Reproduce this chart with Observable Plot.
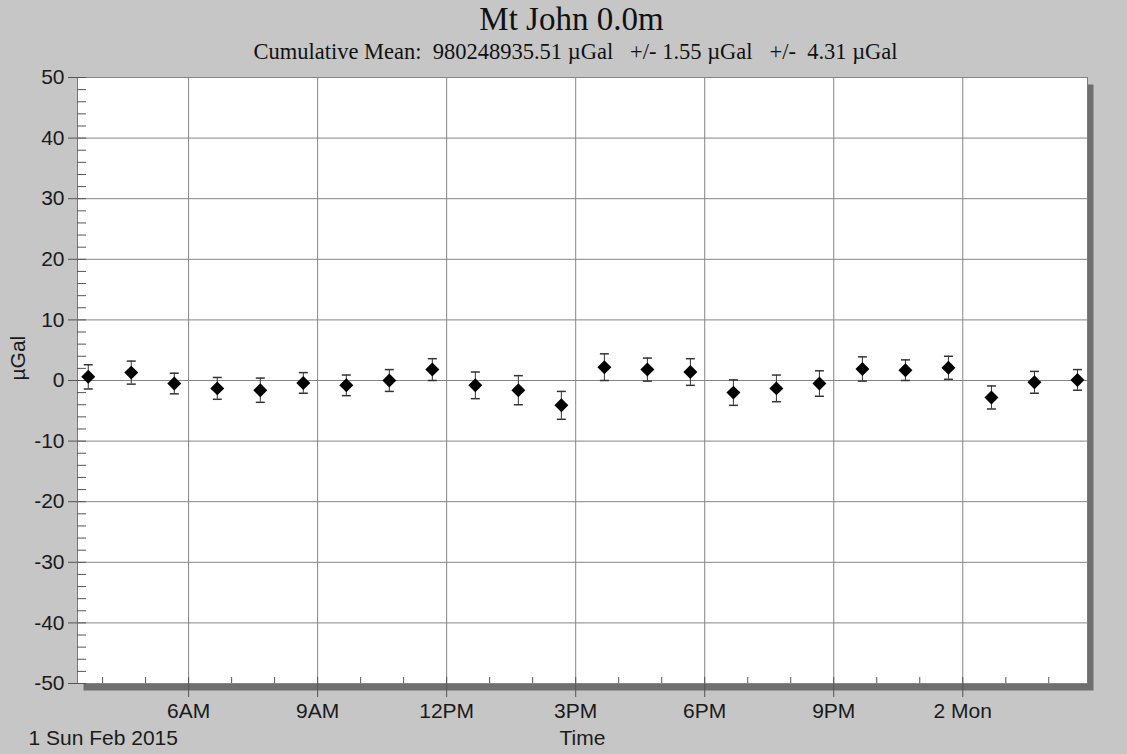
<!DOCTYPE html>
<html>
<head>
<meta charset="utf-8">
<script src="https://cdn.jsdelivr.net/npm/d3@7"></script>
<script src="https://cdn.jsdelivr.net/npm/@observablehq/plot@0.6"></script>
<style>
  html, body { margin: 0; padding: 0; background: #c6c6c6; }
  #wrap { position: relative; width: 1127px; height: 754px; overflow: hidden; background: #c6c6c6; }
  #title { position: absolute; left: 8px; width: 1127px; top: 1px; text-align: center;
           font-family: "Liberation Serif", "Times New Roman", serif; font-size: 33px; line-height: 37px; color: #111; }
  #subtitle { position: absolute; left: 12px; width: 1127px; top: 39px; text-align: center; white-space: pre;
           font-family: "Liberation Serif", "Times New Roman", serif; font-size: 22.5px; line-height: 25px; color: #111; }
  #chart { position: absolute; left: 0; top: 62px; }
</style>
</head>
<body>
<div id="wrap">
  <div id="title"></div>
  <div id="subtitle"></div>
  <div id="chart"></div>
</div>
<script>
// ---- data ----
const titleText = "Mt John 0.0m";
const subtitleText = "Cumulative Mean:  980248935.51 \u00b5Gal   +/- 1.55 \u00b5Gal   +/-  4.31 \u00b5Gal";
const yLabel = "\u00b5Gal";
const xLabel = "Time";
const dateLabel = "1 Sun Feb 2015";

const times = [
  "2015-02-01T03:40", "2015-02-01T04:40", "2015-02-01T05:40", "2015-02-01T06:40",
  "2015-02-01T07:40", "2015-02-01T08:40", "2015-02-01T09:40", "2015-02-01T10:40",
  "2015-02-01T11:40", "2015-02-01T12:40", "2015-02-01T13:40", "2015-02-01T14:40",
  "2015-02-01T15:40", "2015-02-01T16:40", "2015-02-01T17:40", "2015-02-01T18:40",
  "2015-02-01T19:40", "2015-02-01T20:40", "2015-02-01T21:40", "2015-02-01T22:40",
  "2015-02-01T23:40", "2015-02-02T00:40", "2015-02-02T01:40", "2015-02-02T02:40"
];
const values = [0.6, 1.3, -0.5, -1.3, -1.6, -0.4, -0.8, 0.0, 1.8, -0.8, -1.6, -4.1,
                2.2, 1.8, 1.4, -2.0, -1.3, -0.5, 1.9, 1.7, 2.1, -2.8, -0.3, 0.1];
const errors = [2.0, 1.9, 1.7, 1.8, 2.0, 1.7, 1.7, 1.8, 1.8, 2.2, 2.4, 2.3,
                2.2, 1.9, 2.2, 2.1, 2.2, 2.1, 2.0, 1.7, 1.9, 1.9, 1.8, 1.7];

const xDomain = ["2015-02-01T03:25", "2015-02-02T02:54"];
const xTicks = ["2015-02-01T06:00", "2015-02-01T09:00", "2015-02-01T12:00", "2015-02-01T15:00",
                "2015-02-01T18:00", "2015-02-01T21:00", "2015-02-02T00:00"];
const xTickLabels = ["6AM", "9AM", "12PM", "3PM", "6PM", "9PM", "2 Mon"];
const yTicks = [-50, -40, -30, -20, -10, 0, 10, 20, 30, 40, 50];
const yDomain = [-50, 50];

// ---- build ----
document.getElementById("title").textContent = titleText;
document.getElementById("subtitle").textContent = subtitleText;

const parse = s => new Date(s + ":00Z");
const data = times.map((t, i) => ({t: parse(t), v: values[i], e: errors[i]}));
const xTickDates = xTicks.map(parse);
const xDom = xDomain.map(parse);
const hourTicks = d3.utcHour.range(xDom[0], xDom[1]);
const yMinor = d3.range(yDomain[0], yDomain[1] + 0.001, 2);

const capSymbol = {
  draw(ctx, size) { ctx.moveTo(-4.5, 0); ctx.lineTo(4.5, 0); }
};

const axisColor = "#555";
const gridColor = "#858585";

const chart = Plot.plot({
  width: 1127,
  height: 692,
  marginLeft: 77,
  marginRight: 40,
  marginTop: 15,
  marginBottom: 71,
  style: {background: "transparent", fontFamily: "'Liberation Sans', Arial, sans-serif", fontSize: "21px", color: "#1a1a1a", overflow: "visible"},
  x: {type: "utc", domain: xDom},
  y: {domain: yDomain},
  marks: [
    Plot.frame({fill: "#6f6f6f", dx: 6, dy: 7}),
    Plot.frame({fill: "white", stroke: "#7a7a7a"}),
    Plot.gridX(xTickDates, {stroke: gridColor, strokeOpacity: 1}),
    Plot.gridY(yTicks, {stroke: gridColor, strokeOpacity: 1}),
    Plot.axisY(yTicks, {tickSize: 9, tickPadding: 4, stroke: axisColor, label: null, tickFormat: d => String(d)}),
    Plot.axisY(yMinor, {tickSize: -9, tickPadding: 0, stroke: axisColor, label: null, tickFormat: () => ""}),
    Plot.axisX(xTickDates, {tickSize: 14, tickPadding: 6, stroke: axisColor, label: null,
      tickFormat: d => xTickLabels[xTickDates.findIndex(t => +t === +d)]}),
    Plot.axisX(hourTicks, {tickSize: -6, tickPadding: 0, stroke: axisColor, label: null, tickFormat: () => ""}),
    Plot.ruleX(data, {x: "t", y1: d => d.v - d.e, y2: d => d.v + d.e, stroke: "#333", strokeWidth: 1}),
    Plot.dot(data, {x: "t", y: d => d.v + d.e, symbol: capSymbol, stroke: "#333", r: 4}),
    Plot.dot(data, {x: "t", y: d => d.v - d.e, symbol: capSymbol, stroke: "#333", r: 4}),
    Plot.dot(data, {x: "t", y: "v", symbol: "diamond2", fill: "black", stroke: "none", r: 6.3}),
    Plot.text([xLabel], {text: d => d, frameAnchor: "bottom", dy: 61, fill: "#1a1a1a"}),
    Plot.text([dateLabel], {text: d => d, frameAnchor: "bottom-left", dx: -49, dy: 61, textAnchor: "start", fill: "#1a1a1a"}),
    Plot.text([yLabel], {text: d => d, frameAnchor: "left", dx: -59, rotate: -90, fill: "#1a1a1a"})
  ]
});
document.getElementById("chart").appendChild(chart);
</script>
</body>
</html>
